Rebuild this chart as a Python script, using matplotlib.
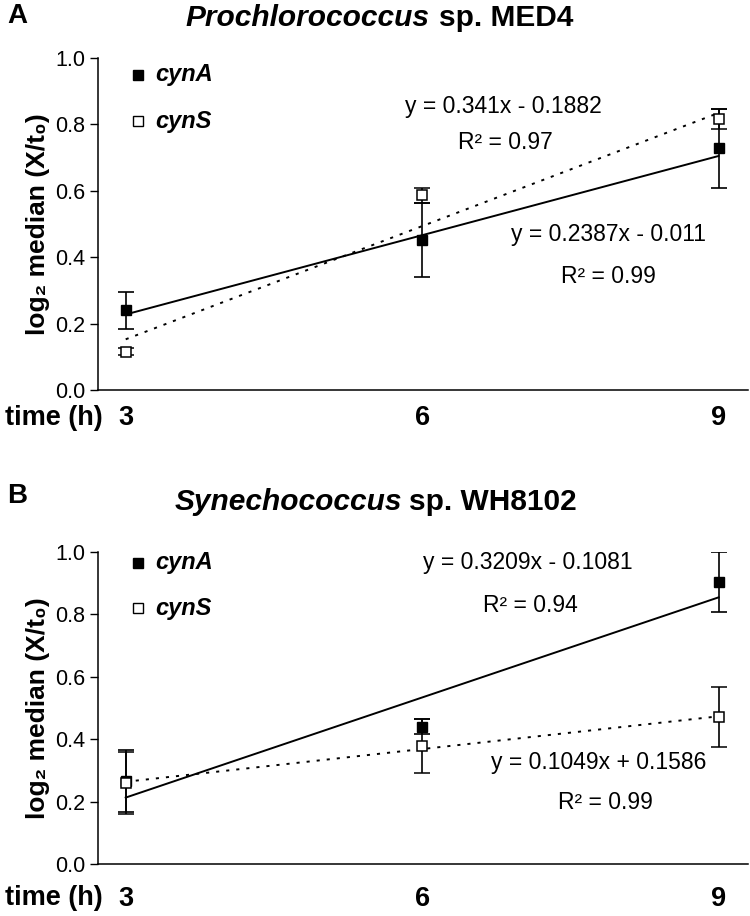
import numpy as np
import matplotlib
matplotlib.use("Agg")
import matplotlib.pyplot as plt

# time points (h) and their category positions used by the trend-line equations
times = [3, 6, 9]
positions = [1, 2, 3]

# panel A: Prochlorococcus sp. MED4
a_cynA = [0.24, 0.452, 0.728]
a_cynA_err = [0.055, 0.11, 0.12]
a_cynS = [0.116, 0.587, 0.816]
a_cynS_err = [0.01, 0.023, 0.03]
a_fit_cynA = (0.2387, -0.011, 0.99)
a_fit_cynS = (0.341, -0.1882, 0.97)

# panel B: Synechococcus sp. WH8102
b_cynA = [0.265, 0.44, 0.904]
b_cynA_err = [0.1, 0.025, 0.096]
b_cynS = [0.26, 0.378, 0.471]
b_cynS_err = [0.1, 0.088, 0.096]
b_fit_cynA = (0.3209, -0.1081, 0.94)
b_fit_cynS = (0.1049, 0.1586, 0.99)

yticks = [0.0, 0.2, 0.4, 0.6, 0.8, 1.0]

FONT = ["Liberation Sans", "DejaVu Sans"]


def eq_text(slope, intercept):
    sign = "-" if intercept < 0 else "+"
    return f"y = {slope:g}x {sign} {abs(intercept):g}"


def draw_panel(ax, cynA, cynA_err, cynS, cynS_err, fitA, fitS, place):
    # trend lines from the printed equations
    xs = np.array(times, dtype=float)
    pos = np.array(positions, dtype=float)
    ax.plot(xs, fitA[0] * pos + fitA[1], color="black", lw=1.4, zorder=2)
    ax.plot(xs, fitS[0] * pos + fitS[1], color="black", lw=1.4,
            linestyle=(0, (1.6, 3.6)), zorder=2)

    ax.errorbar(times, cynA, yerr=cynA_err, fmt="s", color="black", ms=6.5,
                mfc="black", mec="black", ecolor="black", elinewidth=1.2,
                capsize=5.5, capthick=1.2, zorder=3)
    ax.errorbar(times, cynS, yerr=cynS_err, fmt="s", color="black", ms=6.5,
                mfc="white", mec="black", mew=1.1, ecolor="black",
                elinewidth=1.2, capsize=5.5, capthick=1.2, zorder=4)

    ax.set_xlim(2.72, 9.3)
    ax.set_ylim(0, 1.0)
    ax.set_yticks(yticks)
    ax.set_yticklabels([f"{t:.1f}" for t in yticks], family=FONT, fontsize=15.5)
    ax.tick_params(axis="y", direction="out", length=6, width=1, pad=3)
    ax.set_xticks(times)
    ax.set_xticklabels([str(t) for t in times], family=FONT,
                       fontweight="bold", fontsize=19.5)
    ax.tick_params(axis="x", length=0, pad=place["pad"])
    for s in ("top", "right"):
        ax.spines[s].set_visible(False)
    for s in ("left", "bottom"):
        ax.spines[s].set_linewidth(1.1)

    ax.set_ylabel("log\u2082 median (X/t\u2080)", family=FONT, fontweight="bold",
                  fontsize=19, labelpad=4)

    # legend
    ly_a, ly_s = place["leg"]
    ax.plot([3.12], [ly_a], "s", ms=7, color="black", clip_on=False)
    ax.plot([3.12], [ly_s], "s", ms=7, mfc="white", mec="black", clip_on=False)
    ax.text(3.3, ly_a, "cynA", family=FONT, fontweight="bold",
            style="italic", fontsize=17, va="center")
    ax.text(3.3, ly_s, "cynS", family=FONT, fontweight="bold",
            style="italic", fontsize=17, va="center")

    # equations
    for fit, key in ((fitS, "S"), (fitA, "A")):
        x0, y0, x1, y1 = place[key]
        ax.text(x0, y0, eq_text(fit[0], fit[1]), family=FONT, fontsize=16.5,
                ha="center", va="center")
        ax.text(x1, y1, f"R\u00b2 = {fit[2]:.2f}", family=FONT, fontsize=16.5,
                ha="center", va="center")

    ax.text(-0.143, place["time_y"], "time (h)", transform=ax.transAxes,
            family=FONT, fontweight="bold", fontsize=19.5, ha="left", va="center")


fig = plt.figure(figsize=(7.5, 9.16), dpi=100)

axA = fig.add_axes([0.1307, 0.5742, 0.867, 0.3624])
draw_panel(axA, a_cynA, a_cynA_err, a_cynS, a_cynS_err, a_fit_cynA, a_fit_cynS,
           {"leg": (0.95, 0.81), "pad": 11, "time_y": -0.083,
            "S": (6.82, 0.855, 6.84, 0.746),
            "A": (7.89, 0.468, 7.89, 0.343)})

axB = fig.add_axes([0.1307, 0.0568, 0.867, 0.3406])
draw_panel(axB, b_cynA, b_cynA_err, b_cynS, b_cynS_err, b_fit_cynA, b_fit_cynS,
           {"leg": (0.965, 0.82), "pad": 16, "time_y": -0.108,
            "A": (7.07, 0.965, 7.1, 0.83),
            "S": (7.79, 0.324, 7.85, 0.196)})

fig.text(0.01, 0.982, "A", family=FONT, fontweight="bold", fontsize=20,
         va="center")
fig.text(0.01, 0.458, "B", family=FONT, fontweight="bold", fontsize=20,
         va="center")

fig.text(0.573, 0.980, "Prochlorococcus", family=FONT, fontweight="bold",
         style="italic", fontsize=21.5, ha="right", va="center")
fig.text(0.585, 0.980, "sp. MED4", family=FONT, fontweight="bold",
         fontsize=21.5, ha="left", va="center")
fig.text(0.536, 0.452, "Synechococcus", family=FONT, fontweight="bold",
         style="italic", fontsize=21.5, ha="right", va="center")
fig.text(0.545, 0.452, "sp. WH8102", family=FONT, fontweight="bold",
         fontsize=21.5, ha="left", va="center")

fig.savefig("out.png", dpi=100)
